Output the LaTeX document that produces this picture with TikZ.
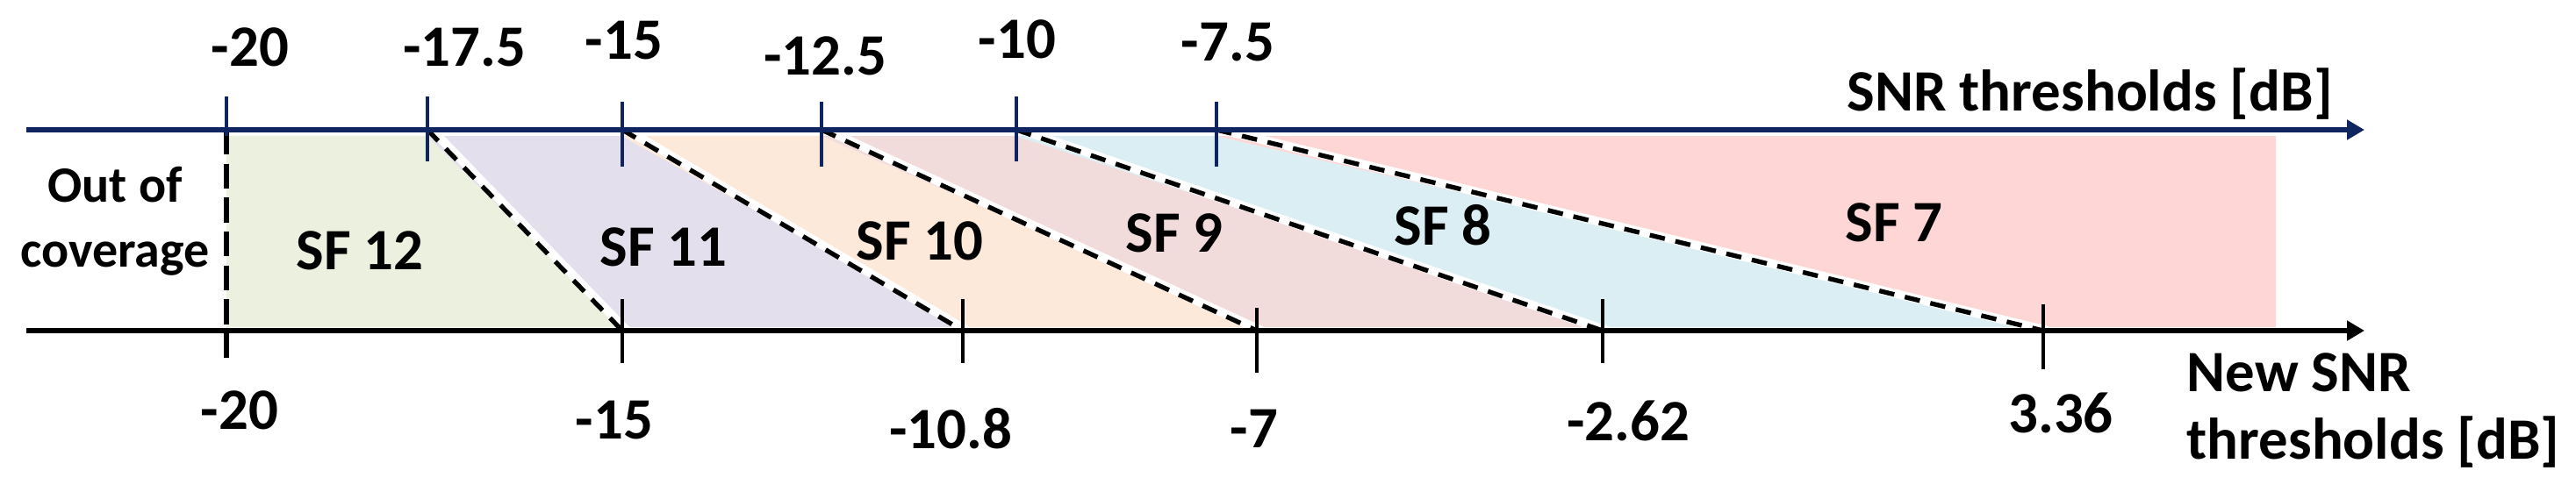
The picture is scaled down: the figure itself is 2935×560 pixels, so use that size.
\documentclass[tikz,border=0pt]{standalone}
\usepackage{fontspec}
\setmainfont{Carlito}
\usetikzlibrary{arrows.meta}
\definecolor{navy}{RGB}{16,36,96}
\definecolor{cgreen}{RGB}{235,241,222}
\definecolor{cpurple}{RGB}{228,223,236}
\definecolor{corange}{RGB}{253,233,217}
\definecolor{crose}{RGB}{242,220,219}
\definecolor{cblue}{RGB}{218,238,243}
\definecolor{cpink}{RGB}{255,214,214}
\tikzset{
  lbl/.style={font=\bfseries\fontsize{19}{22}\selectfont, inner sep=0pt},
  small/.style={font=\bfseries\fontsize{16.5}{21}\selectfont, inner sep=0pt, align=center},
  axtop/.style={navy, line width=1.7pt, -{Triangle[length=0.2cm,width=0.22cm]}},
  axbot/.style={black, line width=1.7pt, -{Triangle[length=0.2cm,width=0.22cm]}},
  ticktop/.style={navy, line width=1.2pt},
  tickbot/.style={black, line width=1.2pt},
  sep/.style={black, line width=1.5pt, dash pattern=on 5pt off 3.5pt},
  sepwhite/.style={white, line width=2.8pt},
}
\begin{document}
\begin{tikzpicture}[x=0.01cm,y=-0.01cm]
\useasboundingbox (0,0) rectangle (2935,560);
% regions
\fill[cgreen]  (258,155) -- (487,155) -- (709,373) -- (258,373) -- cycle;
\fill[cpurple] (487,155) -- (709,155) -- (1097,373) -- (709,373) -- cycle;
\fill[corange] (709,155) -- (936,155) -- (1432,373) -- (1097,373) -- cycle;
\fill[crose]   (936,155) -- (1158,155) -- (1826,373) -- (1432,373) -- cycle;
\fill[cblue]   (1158,155) -- (1386,155) -- (2328,373) -- (1826,373) -- cycle;
\fill[cpink]   (1386,155) -- (2593,155) -- (2593,373) -- (2328,373) -- cycle;
% coordinates top
\coordinate (t1) at (258,148);
\coordinate (t2) at (487,148);
\coordinate (t3) at (709,148);
\coordinate (t4) at (936,148);
\coordinate (t5) at (1158,148);
\coordinate (t6) at (1386,148);
% bottom
\coordinate (b1) at (258,377);
\coordinate (b2) at (709,377);
\coordinate (b3) at (1097,377);
\coordinate (b4) at (1432,377);
\coordinate (b5) at (1826,377);
\coordinate (b6) at (2328,377);
% separators
\foreach \a/\b in {t2/b2,t3/b3,t4/b4,t5/b5,t6/b6}{
  \draw[sepwhite] ([xshift=1.5]\a) -- ([xshift=1.5]\b);
  \draw[sep] (\a) -- (\b);
}
\coordinate (d1) at (258,412);
\draw[black, line width=1.6pt, dash pattern=on 8pt off 3pt] (t1) -- (d1);
% axes
\coordinate (tl) at (30,148);
\coordinate (tr) at (2694,148);
\coordinate (bl) at (30,377);
\coordinate (br) at (2694,377);
\draw[axtop] (tl) -- (tr);
\draw[axbot] (bl) -- (br);
% top ticks
\draw[ticktop] (258,110) -- (258,155);
\draw[ticktop] (487,110) -- (487,184);
\draw[ticktop] (709,116) -- (709,190);
\draw[ticktop] (936,116) -- (936,190);
\draw[ticktop] (1158,110) -- (1158,184);
\draw[ticktop] (1386,116) -- (1386,190);
% bottom ticks
\draw[tickbot] (709,341) -- (709,414);
\draw[tickbot] (1097,341) -- (1097,414);
\draw[tickbot] (1432,351) -- (1432,425);
\draw[tickbot] (1826,341) -- (1826,414);
\draw[tickbot] (2328,347) -- (2328,421);
% top labels
\node[lbl] (l1) at (285,54) {-20};
\node[lbl] (l2) at (529,54) {-17.5};
\node[lbl] (l3) at (711,46) {-15};
\node[lbl] (l4) at (940,64) {-12.5};
\node[lbl] (l5) at (1159,45) {-10};
\node[lbl] (l6) at (1399,48) {-7.5};
% bottom labels
\node[lbl] (m1) at (273,468) {-20};
\node[lbl] (m2) at (700,479) {-15};
\node[lbl] (m3) at (1083,489) {-10.8};
\node[lbl] (m4) at (1429,489) {-7};
\node[lbl] (m5) at (1855,480) {-2.62};
\node[lbl] (m6) at (2348,471) {3.36};
% axis titles
\node[lbl] (at) at (2381,107) {SNR thresholds [dB]};
\node[lbl, anchor=west] (ab1) at (2491,425) {New SNR};
\node[lbl, anchor=west] (ab2) at (2491,504) {thresholds [dB]};
% SF labels
\node[small] (oc) at (131,252) {Out of\\coverage};
\node[lbl] (s12) at (410,286) {SF 12};
\node[lbl] (s11) at (756,282) {SF 11};
\node[lbl] (s10) at (1048,275) {SF 10};
\node[lbl] (s9) at (1338,266) {SF 9};
\node[lbl] (s8) at (1644,257) {SF 8};
\node[lbl] (s7) at (2158,254) {SF 7};
\end{tikzpicture}
\end{document}
